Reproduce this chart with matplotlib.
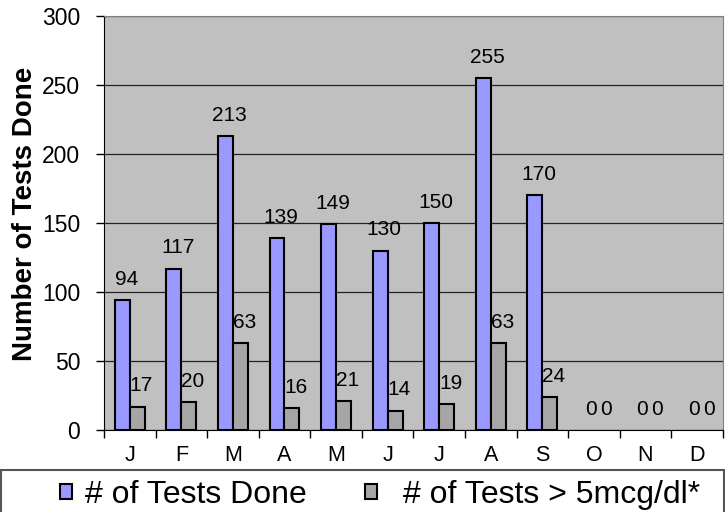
import numpy as np
import matplotlib
matplotlib.use("Agg")
import matplotlib.pyplot as plt
from matplotlib.patches import Rectangle

months = ["J", "F", "M", "A", "M", "J", "J", "A", "S", "O", "N", "D"]
tests_done = [94, 117, 213, 139, 149, 130, 150, 255, 170, 0, 0, 0]
tests_high = [17, 20, 63, 16, 21, 14, 19, 63, 24, 0, 0, 0]

plt.rcParams['font.family'] = ['Liberation Sans', 'DejaVu Sans']

fig = plt.figure(figsize=(7.25, 5.12), dpi=100)
ax = fig.add_axes([0.1434, 0.160, 0.8536, 0.809])

x = np.arange(len(months))
w = 0.29
lw1 = [1.5 if v > 0 else 0 for v in tests_done]
lw2 = [1.5 if v > 0 else 0 for v in tests_high]
b1 = ax.bar(x - w / 2, tests_done, w, color="#9999FF", edgecolor="black", linewidth=lw1,
            label="# of Tests Done", zorder=3)
b2 = ax.bar(x + w / 2, tests_high, w, color="#A6A6A6", edgecolor="black", linewidth=lw2,
            label="# of Tests > 5mcg/dl*", zorder=3)

for bars, vals in ((b1, tests_done), (b2, tests_high)):
    for r, v in zip(bars, vals):
        ax.annotate(str(v), (r.get_x() + r.get_width() / 2, v), xytext=(3, 11),
                    textcoords="offset points", ha="center", va="baseline", fontsize=15)

ax.set_facecolor("#C0C0C0")
ax.set_xlim(-0.5, len(months) - 0.5)
ax.set_ylim(0, 300)
ax.set_yticks(range(0, 301, 50))
ax.yaxis.grid(True, color="#222222", linewidth=0.9, zorder=0)
ax.set_axisbelow(True)
ax.tick_params(axis="y", labelsize=16.5, direction="out", length=6, width=1, pad=11)

ax.set_xticks(x)
ax.set_xticklabels(months, fontsize=15.5)
ax.set_xticks(np.arange(-0.5, len(months), 1), minor=True)
ax.tick_params(axis="x", which="major", length=0, pad=11)
ax.tick_params(axis="x", which="minor", length=6, width=1, direction="out")

for s in ("top", "right"):
    ax.spines[s].set_color("#808080")
ax.spines["left"].set_color("black")
ax.spines["bottom"].set_color("black")

ax.set_ylabel("Number of Tests Done", fontsize=20, fontweight="bold")
ax.yaxis.set_label_coords(-0.107, 0.522)

fig.patches.append(Rectangle((0.001, -0.01), 0.997, 1 - 470 / 512 + 0.01, transform=fig.transFigure,
                             fill=False, edgecolor="#555555", linewidth=1.5))
leg_y = 1 - 495 / 512
fig.legend(handles=[b1], loc="center left", bbox_to_anchor=(60 / 725, leg_y),
           frameon=False, fontsize=23, handlelength=0.38, handleheight=0.38, handletextpad=0.4,
           borderpad=0, borderaxespad=0)
fig.legend(handles=[b2], loc="center left", bbox_to_anchor=(365 / 725, leg_y),
           frameon=False, fontsize=23, handlelength=0.38, handleheight=0.38, handletextpad=0.8,
           borderpad=0, borderaxespad=0)

fig.savefig("out.png", dpi=100)
